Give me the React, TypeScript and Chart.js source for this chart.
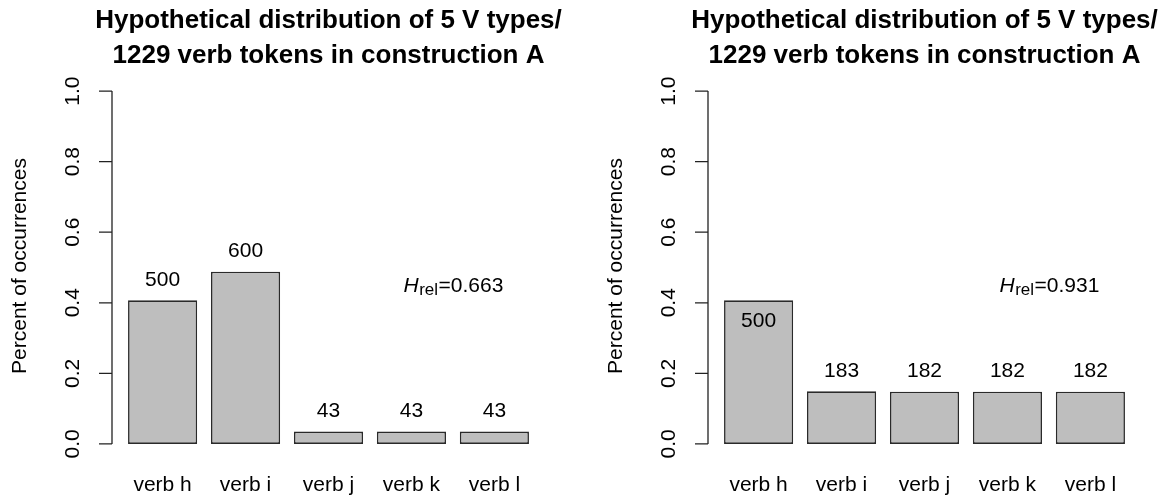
import React, { useEffect, useRef } from "react";
import { Chart, registerables } from "chart.js";

Chart.register(...registerables);

// ---- data ----
const categories = ["verb h", "verb i", "verb j", "verb k", "verb l"];
const tokensA = [500, 600, 43, 43, 43];
const tokensB = [500, 183, 182, 182, 182];
const totalTokens = 1229;
const hrelA = "0.663";
const hrelB = "0.931";
const yTicks = [0, 0.2, 0.4, 0.6, 0.8, 1.0];
const titleLines = ["Hypothetical distribution of 5 V types/", "1229 verb tokens in construction A"];
const yTitle = "Percent of occurrences";
const labelInsideA = [false, false, false, false, false];
const labelInsideB = [true, false, false, false, false];
const hrelPos = { x: 4.9, y: 0.43 };

const FONT = '"Liberation Sans", Arial, Helvetica, sans-serif';

// R barplot geometry: width 1, space 0.2
const barCenters = categories.map((_, i) => 0.7 + 1.2 * i);

const rPlugin = {
  id: "rDecor",
  afterDraw(chart: any, _args: any, opts: any) {
    const ctx = chart.ctx as CanvasRenderingContext2D;
    const ys = chart.scales.y;
    const xs = chart.scales.x;
    const area = chart.chartArea;
    const left = area.left;
    ctx.save();
    // title (centered over the plot region)
    ctx.fillStyle = "#000";
    ctx.font = `bold 26px ${FONT}`;
    ctx.textAlign = "center";
    ctx.textBaseline = "alphabetic";
    const tcx = (area.left + area.right) / 2;
    ctx.fillText(titleLines[0], tcx, 28);
    ctx.fillText(titleLines[1], tcx, 62.5);
    // y axis
    ctx.strokeStyle = "#222";
    ctx.lineWidth = 1.3;
    ctx.beginPath();
    ctx.moveTo(left, ys.getPixelForValue(yTicks[0]));
    ctx.lineTo(left, ys.getPixelForValue(yTicks[yTicks.length - 1]));
    for (const t of yTicks) {
      const py = ys.getPixelForValue(t);
      ctx.moveTo(left - 13, py);
      ctx.lineTo(left, py);
    }
    ctx.stroke();
    ctx.font = `21px ${FONT}`;
    ctx.textAlign = "center";
    ctx.textBaseline = "middle";
    for (const t of yTicks) {
      const py = ys.getPixelForValue(t);
      ctx.save();
      ctx.translate(left - 38.5, py);
      ctx.rotate(-Math.PI / 2);
      ctx.fillText(t.toFixed(1), 0, 0);
      ctx.restore();
    }
    // y title
    ctx.save();
    ctx.translate(20.5, (area.top + area.bottom) / 2 - 1.5);
    ctx.rotate(-Math.PI / 2);
    ctx.fillText(yTitle, 0, 0);
    ctx.restore();
    // bar labels
    const meta = chart.getDatasetMeta(0);
    const tokens: number[] = opts.tokens;
    const inside: boolean[] = opts.inside;
    meta.data.forEach((bar: any, i: number) => {
      const py = inside[i] ? bar.y + 21 : bar.y - 20;
      ctx.fillText(String(tokens[i]), bar.x, py);
    });
    // H_rel annotation
    const cx = xs.getPixelForValue(hrelPos.x);
    const by = ys.getPixelForValue(hrelPos.y);
    const fH = `italic 21px ${FONT}`;
    const fSub = `17px ${FONT}`;
    const fMain = `21px ${FONT}`;
    const rest = "=" + opts.hrel;
    ctx.font = fH;
    const wH = ctx.measureText("H").width;
    ctx.font = fSub;
    const wS = ctx.measureText("rel").width;
    ctx.font = fMain;
    const wR = ctx.measureText(rest).width;
    let x0 = cx - (wH + wS + wR) / 2;
    ctx.textAlign = "left";
    ctx.textBaseline = "alphabetic";
    ctx.font = fH;
    ctx.fillText("H", x0, by);
    x0 += wH + 0.5;
    ctx.font = fSub;
    ctx.fillText("rel", x0, by + 3);
    x0 += wS + 0.5;
    ctx.font = fMain;
    ctx.fillText(rest, x0, by);
    ctx.restore();
  },
};

function Panel(props: { tokens: number[]; hrel: string; inside: boolean[]; width: number; padRight: number }) {
  const ref = useRef<HTMLCanvasElement>(null);
  useEffect(() => {
    if (!ref.current) return;
    const values = props.tokens.map((t) => t / totalTokens);
    const chart = new Chart(ref.current, {
      type: "bar",
      data: {
        datasets: [
          {
            data: values.map((v, i) => ({ x: barCenters[i], y: v })),
            backgroundColor: "#BEBEBE",
            borderColor: "#2a2a2a",
            borderWidth: 1.6,
            borderSkipped: false,
            barPercentage: 1 / 1.2,
            categoryPercentage: 1,
          } as any,
        ],
      },
      options: {
        responsive: false,
        maintainAspectRatio: false,
        animation: false,
        layout: { padding: { left: 112, right: props.padRight, top: 77, bottom: 0 } },
        scales: {
          x: {
            type: "linear",
            min: -0.032,
            max: 6.232,
            offset: false,
            grid: { display: false, drawTicks: false },
            border: { display: false },
            afterBuildTicks: (s: any) => {
              s.ticks = barCenters.map((v) => ({ value: v }));
            },
            afterFit: (s: any) => {
              s.height = 41;
            },
            ticks: {
              autoSkip: false,
              maxRotation: 0,
              minRotation: 0,
              padding: 15,
              color: "#000",
              font: { family: FONT, size: 21 },
              callback: (_v: any, i: number) => categories[i],
            },
          } as any,
          y: { type: "linear", min: -0.04, max: 1.04, display: false },
        },
        plugins: {
          legend: { display: false },
          tooltip: { enabled: false },
          title: { display: false },
          rDecor: { tokens: props.tokens, inside: props.inside, hrel: props.hrel },
        } as any,
      },
      plugins: [rPlugin],
    });
    return () => chart.destroy();
  }, []);
  return <canvas ref={ref} width={props.width} height={499} style={{ display: "block" }} />;
}

export default function App() {
  useEffect(() => {
    document.body.style.margin = "0";
    document.body.style.background = "#fff";
  }, []);
  return (
    <div style={{ display: "flex", width: 1168, height: 499, background: "#fff" }}>
      <Panel tokens={tokensA} hrel={hrelA} inside={labelInsideA} width={596} padRight={51} />
      <Panel tokens={tokensB} hrel={hrelB} inside={labelInsideB} width={572} padRight={27} />
    </div>
  );
}
